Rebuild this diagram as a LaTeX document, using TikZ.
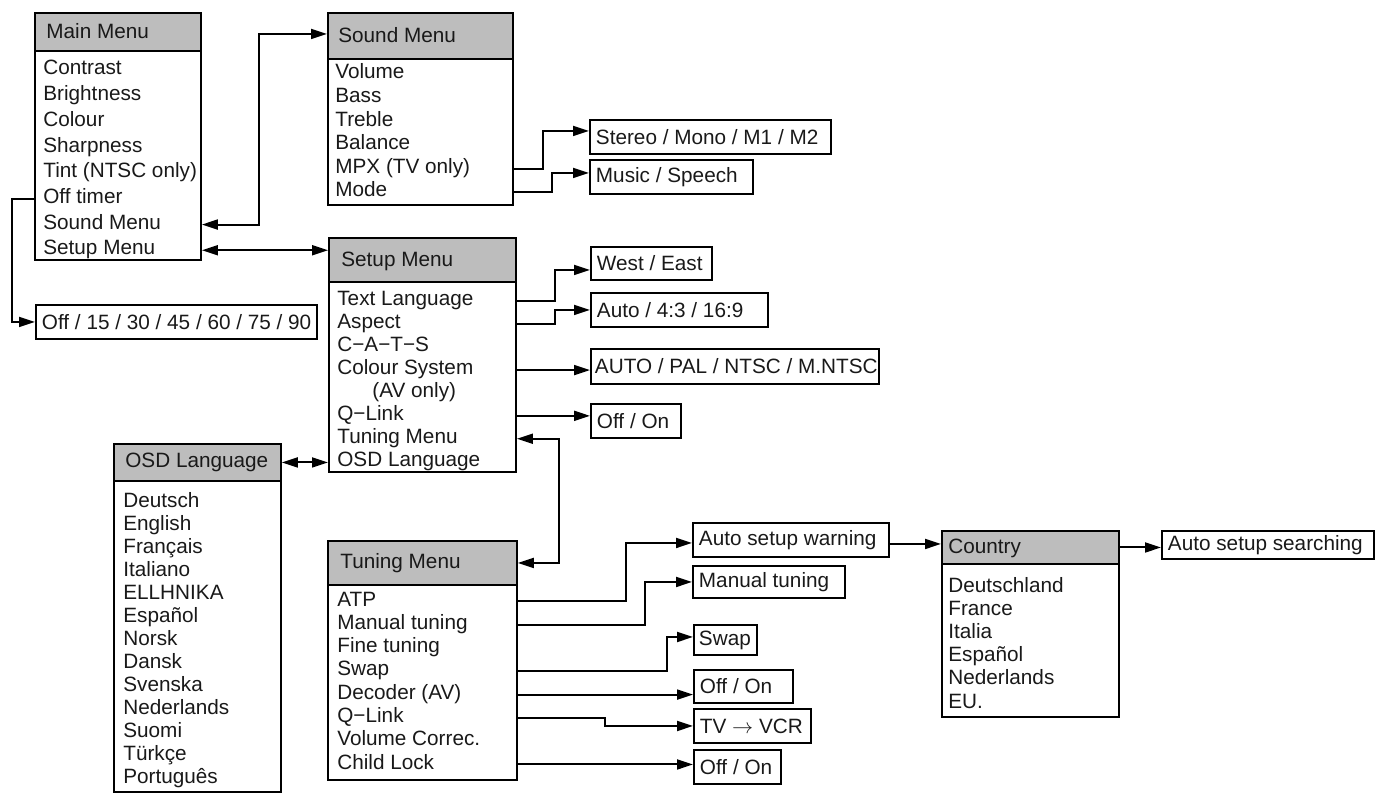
\documentclass[tikz,border=0pt]{standalone}
\usepackage{fontspec}
\setmainfont{Liberation Sans}
\usepackage{tikz}
\usetikzlibrary{arrows.meta,calc}
\newcommand{\mfont}{\fontsize{11.8pt}{13pt}\selectfont}

\begin{document}
\begin{tikzpicture}[x=0.02cm,y=-0.02cm,line join=miter,
  menu/.style={draw,line width=1.1pt,anchor=north west,inner sep=0pt},
  head/.style={menu,fill=black!26},
  ttl/.style={anchor=base west,inner sep=0pt,font=\mfont,text=black!90},
  item/.style={anchor=base west,inner sep=0pt,font=\mfont,text=black!90},
  opt/.style={draw,line width=1.1pt,anchor=north west,inner xsep=0.12cm,inner ysep=0pt,
              text width=#1,font=\mfont,text=black!90,
              execute at begin node={\noindent\spaceskip=0pt\xspaceskip=0pt}},
  link/.style={line width=1.1pt,-{Triangle[length=0.32cm,width=0.2cm]}},
  both/.style={line width=1.1pt,{Triangle[length=0.32cm,width=0.2cm]}-{Triangle[length=0.32cm,width=0.2cm]}}]
  \useasboundingbox (0,0) rectangle (1381,793);

  \node[menu,minimum width=3.32cm,minimum height=4.94cm] (main) at (34,12) {};
  \node[head,minimum width=3.32cm,minimum height=0.76cm] (mainH) at (main.north west) {};
  \node[ttl] (mainT) at (46,39) {Main Menu};
  \foreach \t [count=\i from 0] in {Contrast,Brightness,Colour,Sharpness,Tint (NTSC only),Off timer,Sound Menu,Setup Menu}
    \node[item] (m\i) at (43,75+25.7*\i) {\t};

  \node[menu,minimum width=3.70cm,minimum height=3.84cm] (sound) at (327,12) {};
  \node[head,minimum width=3.70cm,minimum height=0.92cm] (soundH) at (sound.north west) {};
  \node[ttl] (soundT) at (338,43) {Sound Menu};
  \foreach \t [count=\i from 0] in {Volume,Bass,Treble,Balance,MPX (TV only),Mode}
    \node[item] (snd\i) at (335,79+23.6*\i) {\t};

  \node[menu,minimum width=3.74cm,minimum height=4.68cm] (setup) at (328,237) {};
  \node[head,minimum width=3.74cm,minimum height=0.88cm] (setupH) at (setup.north west) {};
  \node[ttl] (setupT) at (341,267) {Setup Menu};
  \foreach \t [count=\i from 0] in {Text Language,Aspect,C−A−T−S,Colour System,\hspace*{0.7cm}(AV only),Q−Link,Tuning Menu,OSD Language}
    \node[item] (set\i) at (337,306+22.9*\i) {\t};

  \node[menu,minimum width=3.34cm,minimum height=6.96cm] (osd) at (113,443) {};
  \node[head,minimum width=3.34cm,minimum height=0.74cm] (osdH) at (osd.north west) {};
  \node[ttl] (osdT) at (125,467) {OSD Language};
  \foreach \t [count=\i from 0] in {Deutsch,English,Français,Italiano,ELLHNIKA,Español,Norsk,Dansk,Svenska,Nederlands,Suomi,Türkçe,Português}
    \node[item] (osd\i) at (123,507+23*\i) {\t};

  \node[menu,minimum width=3.78cm,minimum height=4.78cm] (tun) at (327,540) {};
  \node[head,minimum width=3.78cm,minimum height=0.88cm] (tunH) at (tun.north west) {};
  \node[ttl] (tunT) at (340,568) {Tuning Menu};
  \foreach \t [count=\i from 0] in {ATP,Manual tuning,Fine tuning,Swap,Decoder (AV),Q−Link,Volume Correc.,Child Lock}
    \node[item] (tun\i) at (337,606+23.3*\i) {\t};

  \node[menu,minimum width=3.54cm,minimum height=3.72cm] (cty) at (941,530) {};
  \node[head,minimum width=3.54cm,minimum height=0.66cm] (ctyH) at (cty.north west) {};
  \node[ttl] (ctyT) at (948,553) {Country};
  \foreach \t [count=\i from 0] in {Deutschland,France,Italia,Español,Nederlands,EU.}
    \node[item] (cty\i) at (948,592+23.2*\i) {\t};

  \node[opt=5.38cm,minimum height=0.68cm] (off) at (35,304) {\mbox{Off / 15 / 30 / 45 / 60 / 75 / 90}};
  \node[opt=4.58cm,minimum height=0.68cm] (stereo) at (589,119) {\mbox{Stereo / Mono / M1 / M2}};
  \node[opt=3.02cm,minimum height=0.68cm] (music) at (589,159) {\mbox{Music / Speech}};
  \node[opt=2.18cm,minimum height=0.66cm] (west) at (590,246) {\mbox{West / East}};
  \node[opt=3.30cm,minimum height=0.68cm] (aspect) at (590,292) {\mbox{Auto / 4:3 / 16:9}};
  \node[opt=5.60cm,minimum height=0.70cm,inner xsep=0.08cm] (colsys) at (590,348) {\mbox{AUTO / PAL / NTSC / M.NTSC}};
  \node[opt=1.56cm,minimum height=0.68cm] (qlink) at (590,403) {\mbox{Off / On}};
  \node[opt=3.68cm,minimum height=0.68cm] (warn) at (692,522) {\mbox{Auto setup warning}};
  \node[opt=2.80cm,minimum height=0.64cm] (manual) at (692,565) {\mbox{Manual tuning}};
  \node[opt=1.06cm,minimum height=0.60cm,inner xsep=0.1cm] (swap) at (693,624) {Swap};
  \node[opt=1.74cm,minimum height=0.66cm] (decoder) at (693,669) {\mbox{Off / On}};
  \node[opt=2.10cm,minimum height=0.68cm] (tvvcr) at (693,708) {\mbox{TV $\rightarrow$ VCR}};
  \node[opt=1.50cm,minimum height=0.68cm] (child) at (693,749) {\mbox{Off / On}};
  \node[opt=4.00cm,minimum height=0.56cm] (search) at (1161,530) {\mbox{Auto setup searching}};

  \draw[link] (m5.mid -| main.west) -- ++(-22,0) |- (off.west);
  \draw[both] (m6.mid -| main.east) -- ++(57,0) |- ([yshift=0.04cm]soundH.west);
  \draw[both] (m7.mid -| main.east) -- (m7.mid -| setupH.west);
  \draw[link] (snd4.mid -| sound.east) -- ++(29,0) |- ([yshift=0.12cm]stereo.west);
  \draw[link] (snd5.mid -| sound.east) -- ++(38,0) |- ([yshift=0.08cm]music.west);
  \draw[link] (set0.mid -| setup.east) -- ++(38,0) |- ([yshift=-0.13cm]west.west);
  \draw[link] (set1.mid -| setup.east) -- ++(38,0) |- (aspect.west);
  \draw[link] (set3.mid -| setup.east) -- (set3.mid -| colsys.west);
  \draw[link] (set5.mid -| setup.east) -- (set5.mid -| qlink.west);
  \draw[both] (set6.mid -| setup.east) -- ++(42,0) |- (tunH.east);
  \draw[both] (osdH.east) -- (osdH.east -| setup.west);
  \draw[link] (tun0.mid -| tun.east) -- ++(108,0) |- ([yshift=-0.06cm]warn.west);
  \draw[link] (tun1.mid -| tun.east) -- ++(127,0) |- (manual.west);
  \draw[link] (tun3.mid -| tun.east) -- ++(149,0) |- ([yshift=0.06cm]swap.west);
  \draw[link] (tun4.mid -| tun.east) -- (tun4.mid -| decoder.west);
  \draw[link] (tun5.mid -| tun.east) -- ++(87,0) |- (tvvcr.west);
  \draw[link] (tun7.mid -| tun.east) -- (tun7.mid -| child.west);
  \draw[link] ([yshift=-0.08cm]warn.east) -- ([yshift=-0.08cm]warn.east -| ctyH.west);
  \draw[link] (ctyH.east) -- (ctyH.east -| search.west);
\end{tikzpicture}
\end{document}
